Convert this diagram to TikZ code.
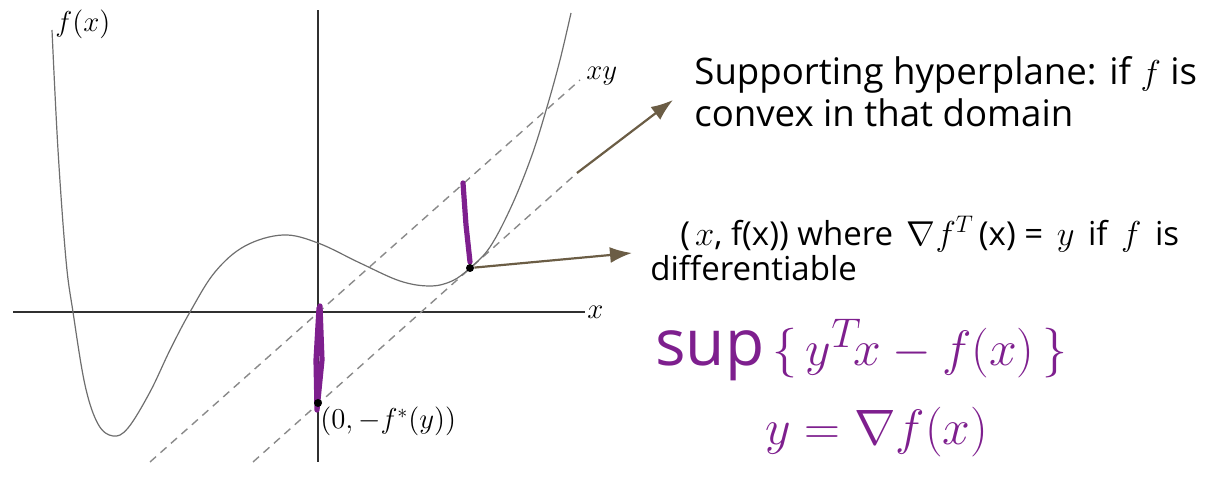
\documentclass[tikz,border=0pt]{standalone}
\usepackage{fontspec}
\setmainfont{Open Sans}
\usetikzlibrary{arrows.meta}
\definecolor{curvegray}{HTML}{6E6E6E}
\definecolor{dashgray}{HTML}{8A8A8A}
\definecolor{axisblack}{HTML}{303030}
\definecolor{ink}{HTML}{7E1F8E}
\definecolor{arrowbrown}{HTML}{6B5D45}
\newcommand{\mgap}{\hspace{2.5pt}}
\tikzset{
  axisline/.style={draw=axisblack, line width=0.9pt},
  fcurve/.style={draw=curvegray, line width=0.6pt},
  tangent/.style={draw=dashgray, line width=0.7pt, dash pattern=on 4pt off 3pt},
  inkstroke/.style={draw=ink, line width=2.6pt, line cap=round, line join=round},
  callout/.style={draw=arrowbrown, line width=1.1pt, -{Latex[length=11pt,width=8pt]}},
  mathlbl/.style={font=\fontsize{14.5}{17}\selectfont, inner sep=1pt},
  noteA/.style={font=\fontsize{18.3}{21}\selectfont, align=left, inner sep=0pt},
  noteB/.style={font=\fontsize{16.5}{17.5}\selectfont, align=left, inner sep=0pt},
  handw/.style={text=ink, font=\fontsize{32}{34}\selectfont, inner sep=0pt},
  dotpt/.style={circle, fill=black, inner sep=0pt, minimum size=4pt}
}
\begin{document}
\begin{tikzpicture}[x=0.5pt,y=-0.5pt]
\useasboundingbox (0,0) rectangle (1208,490);
% axes
\coordinate (xa0) at (13,312);
\coordinate (xa1) at (585,312);
\coordinate (ya0) at (318,10);
\coordinate (ya1) at (318,462);
\draw[axisline] (xa0) -- (xa1);
\draw[axisline] (ya1) -- (ya0);
\node[mathlbl, anchor=west] (xl) at (xa1) {$x$};
\node[mathlbl, anchor=west] (fl) at (53,24) {$f(x)$};
% tangent lines
\coordinate (d1a) at (150,462);
\coordinate (d1b) at (580,80);
\coordinate (d2a) at (253,462);
\coordinate (d2b) at (577,173);
\draw[tangent] (d1a) -- (d1b);
\draw[tangent] (d2a) -- (d2b);
\node[mathlbl, anchor=west] (xyl) at (584,76) {$xy$};
% function
\draw[fcurve] plot[smooth, tension=0.6] coordinates {
 (52,30) (58,150) (66,260) (73,312) (85,385) (98,424) (113,436) (128,428)
 (150,392) (170,350) (190,312) (215,272) (245,246) (283,235) (318,243)
 (360,263) (400,281) (430,286) (452,281) (470,268) (490,247) (512,205)
 (532,155) (547,107) (560,60) (571,13)};
% ink marks
\draw[inkstroke] (320,306) -- (322,360) -- (317,410) -- (316,360) -- (319,308);
\draw[inkstroke] (463,183) -- (466,225) -- (470,262);
% points
\node[dotpt] (tp) at (470,268) {};
\node[dotpt] (p0) at (318,403) {};
\node[mathlbl, anchor=north west] (p0l) at (318,405) {$(0, -f^{*}(y))$};
% notes
\node[noteA, anchor=north west] (t1) at (694,56) {Supporting hyperplane: if $f$ is\\convex in that domain};
\node[noteB, anchor=north west] (t2) at (650,216) {\hspace{15pt}(\mgap$x$, f(x)) where \mgap$\nabla f^{T}$\mgap(x) = \mgap$y$\mgap\ if \mgap$f$\mgap\ is\\differentiable};
% callouts
\coordinate (c1) at (673,100);
\coordinate (c2) at (632,253);
\draw[callout] (d2b) -- (c1);
\draw[callout] (tp) -- (c2);
% handwriting
\node[handw, anchor=west] (h1) at (655,350) {$\sup\,\{\,y^{T}\!x - f(x)\,\}$};
\node[handw, anchor=west] (h2) at (765,432) {$y = \nabla f(x)$};
\end{tikzpicture}
\end{document}
